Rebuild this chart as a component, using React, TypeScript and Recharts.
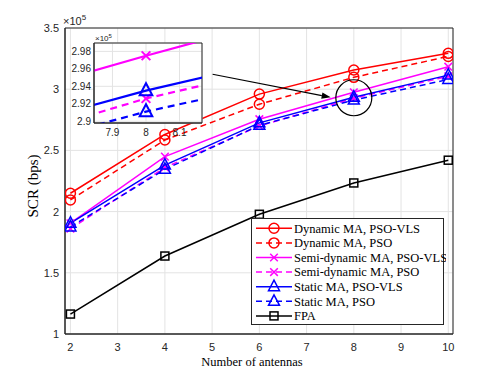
import React from 'react';
import { LineChart, Line, XAxis, YAxis, CartesianGrid, ReferenceArea, ReferenceDot, ReferenceLine } from 'recharts';

const antennas = [2, 4, 6, 8, 10];
const dynamicVLS = [215000, 263000, 296000, 315700, 329300];
const dynamicPSO = [209500, 258500, 287700, 309700, 326800];
const semiVLS = [190500, 244900, 275500, 297500, 318400];
const semiPSO = [186000, 236000, 270000, 292600, 310500];
const staticVLS = [190500, 238000, 272500, 293500, 311500];
const staticPSO = [187500, 234500, 270500, 291100, 308000];
const fpa = [116300, 163700, 197800, 223400, 242000];

const xTicks = [2, 3, 4, 5, 6, 7, 8, 9, 10];
const yTicks = [100000, 150000, 200000, 250000, 300000, 350000];
const insetXTicks = [7.9, 8, 8.1];
const insetYTicks = [290000, 292000, 294000, 296000, 298000];

const xLabel = 'Number of antennas';
const yLabel = 'SCR (bps)';

type Marker = 'circle' | 'x' | 'triangle' | 'square';
interface Series { key: string; name: string; color: string; dashed: boolean; marker: Marker; values: number[] }

const series: Series[] = [
  { key: 'dynVLS', name: 'Dynamic MA, PSO-VLS', color: '#FF0000', dashed: false, marker: 'circle', values: dynamicVLS },
  { key: 'dynPSO', name: 'Dynamic MA, PSO', color: '#FF0000', dashed: true, marker: 'circle', values: dynamicPSO },
  { key: 'semiVLS', name: 'Semi-dynamic MA, PSO-VLS', color: '#FF00FF', dashed: false, marker: 'x', values: semiVLS },
  { key: 'semiPSO', name: 'Semi-dynamic MA, PSO', color: '#FF00FF', dashed: true, marker: 'x', values: semiPSO },
  { key: 'staticVLS', name: 'Static MA, PSO-VLS', color: '#0000FF', dashed: false, marker: 'triangle', values: staticVLS },
  { key: 'staticPSO', name: 'Static MA, PSO', color: '#0000FF', dashed: true, marker: 'triangle', values: staticPSO },
  { key: 'fpa', name: 'FPA', color: '#000000', dashed: false, marker: 'square', values: fpa },
];

const data = antennas.map((n, i) => {
  const row: Record<string, number> = { n };
  series.forEach((s) => { row[s.key] = s.values[i]; });
  return row;
});

const zoomCenter = { x: 8, y: 293000 };
const arrowFrom = { x: 5.01, y: 312200 };
const arrowTo = { x: 7.51, y: 293400 };

function MarkerShape({ type, cx, cy, color, scale = 1, sw = 1.5 }: { type: Marker; cx: number; cy: number; color: string; scale?: number; sw?: number }) {
  if (cx == null || cy == null || isNaN(cx) || isNaN(cy)) return null;
  const s = scale;
  if (type === 'circle') return <circle cx={cx} cy={cy} r={5 * s} fill="none" stroke={color} strokeWidth={sw} />;
  if (type === 'x') {
    const d = 3.8 * s;
    return (
      <g stroke={color} strokeWidth={sw}>
        <line x1={cx - d} y1={cy - d} x2={cx + d} y2={cy + d} />
        <line x1={cx - d} y1={cy + d} x2={cx + d} y2={cy - d} />
      </g>
    );
  }
  if (type === 'triangle') {
    const w = 5.5 * s;
    return <polygon points={`${cx},${cy - 6.5 * s} ${cx - w},${cy + 4 * s} ${cx + w},${cy + 4 * s}`} fill="none" stroke={color} strokeWidth={sw} />;
  }
  const h = 4 * s;
  return <rect x={cx - h} y={cy - h} width={2 * h} height={2 * h} fill="none" stroke={color} strokeWidth={sw} />;
}

const tickStyle = { fontFamily: 'Liberation Sans, Arial, sans-serif', fontSize: 11, fill: '#262626' };
const insetTickStyle = { fontFamily: 'Liberation Sans, Arial, sans-serif', fontSize: 10, fill: '#262626' };
const fmtMain = (v: number) => String(v / 1e5);
const fmtInset = (v: number) => String(parseFloat((v / 1e5).toFixed(2)));

const Arrow = (props: any) => {
  const { x1, y1, x2, y2 } = props;
  if ([x1, y1, x2, y2].some((v) => v == null || isNaN(v))) return null;
  const ang = Math.atan2(y2 - y1, x2 - x1);
  const L = 9, W = 3.2;
  const bx = x2 - L * Math.cos(ang), by = y2 - L * Math.sin(ang);
  const px = -Math.sin(ang) * W, py = Math.cos(ang) * W;
  return (
    <g>
      <line x1={x1} y1={y1} x2={bx} y2={by} stroke="#000" strokeWidth={1.2} />
      <polygon points={`${x2},${y2} ${bx + px},${by + py} ${bx - px},${by - py}`} fill="#000" />
    </g>
  );
};

export default function App() {
  return (
    <div style={{ position: 'absolute', left: 0, top: 0, width: 501, height: 376, background: '#fff' }}>
      <div style={{ position: 'absolute', left: 0, top: 0 }}>
        <LineChart width={501} height={376} data={data} margin={{ top: 28, right: 48, left: 20, bottom: 12 }}>
          <CartesianGrid stroke="#e3e3e3" strokeWidth={1} />
          <XAxis dataKey="n" type="number" domain={[1.885, 10.1]} ticks={xTicks} allowDataOverflow height={30}
            tick={tickStyle} tickLine={false} tickSize={0} tickMargin={9} axisLine={{ stroke: '#262626' }}
            label={{ content: () => <text x={252} y={366} textAnchor="middle" fontFamily="Liberation Serif, Times New Roman, serif" fontSize={12.5} fill="#000">{xLabel}</text> }} />
          <YAxis type="number" domain={[100000, 350000]} ticks={yTicks} allowDataOverflow width={45}
            tickFormatter={fmtMain} tick={tickStyle} tickLine={false} tickSize={0} tickMargin={6} axisLine={{ stroke: '#262626' }}
            label={{ content: () => <text x={38} y={186} textAnchor="middle" transform="rotate(-90 38 186)" fontFamily="Liberation Serif, Times New Roman, serif" fontSize={15} fill="#000">{yLabel}</text> }} />
          <ReferenceArea x1={1.885} x2={10.1} y1={100000} y2={350000} fill="none" stroke="#262626" strokeWidth={1} ifOverflow="visible" />
          {series.map((s) => (
            <Line key={s.key} dataKey={s.key} name={s.name} stroke={s.color} strokeWidth={1.5}
              strokeDasharray={s.dashed ? '6 4' : undefined} isAnimationActive={false}
              dot={(p: any) => <MarkerShape key={`${s.key}-${p.index}`} type={s.marker} cx={p.cx} cy={p.cy} color={s.color} />}
              activeDot={false} />
          ))}
          <ReferenceDot x={zoomCenter.x} y={zoomCenter.y} r={18} fill="none" stroke="#000" strokeWidth={1.2} ifOverflow="visible" />
          <ReferenceLine segment={[arrowFrom, arrowTo]} shape={Arrow} ifOverflow="visible" />
        </LineChart>
        <svg style={{ position: 'absolute', left: 0, top: 0, pointerEvents: 'none' }} width={501} height={30}>
          <text x={63} y={25} fontFamily="Liberation Sans, Arial, sans-serif" fontSize={11} fill="#262626">×10<tspan dy={-5} fontSize={8}>5</tspan></text>
        </svg>
      </div>

      <div style={{ position: 'absolute', left: 60, top: 30 }}>
        <LineChart width={150} height={115} data={data} margin={{ top: 13, right: 8, left: 0, bottom: 2 }}>
          <CartesianGrid stroke="#e3e3e3" fill="#fff" fillOpacity={1} />
          <XAxis dataKey="n" type="number" domain={[7.845, 8.167]} ticks={insetXTicks} allowDataOverflow height={20}
            tick={insetTickStyle} tickLine={false} tickSize={0} tickMargin={6} axisLine={{ stroke: '#262626' }} />
          <YAxis type="number" domain={[289800, 298960]} ticks={insetYTicks} allowDataOverflow width={34}
            tickFormatter={fmtInset} tick={insetTickStyle} tickLine={false} tickSize={0} tickMargin={3} axisLine={{ stroke: '#262626' }} />
          {series.map((s) => (
            <Line key={s.key} dataKey={s.key} stroke={s.color} strokeWidth={2.2}
              strokeDasharray={s.dashed ? '7 5' : undefined} isAnimationActive={false}
              dot={(p: any) => <MarkerShape key={`i-${s.key}-${p.index}`} type={s.marker} cx={p.cx} cy={p.cy} color={s.color} scale={1.15} sw={2} />}
              activeDot={false} />
          ))}
          <ReferenceArea x1={7.845} x2={8.167} y1={289800} y2={298960} fill="none" stroke="#262626" strokeWidth={1} ifOverflow="visible" />
        </LineChart>
        <svg style={{ position: 'absolute', left: 0, top: 0, pointerEvents: 'none' }} width={150} height={20}>
          <text x={35} y={11} fontFamily="Liberation Sans, Arial, sans-serif" fontSize={8} fill="#262626">×10<tspan dy={-3} fontSize={6}>5</tspan></text>
        </svg>
      </div>

      <svg style={{ position: 'absolute', left: 251, top: 218 }} width={195} height={108}>
        <rect x={0.5} y={0.5} width={192} height={106} fill="#fff" stroke="#262626" strokeWidth={1} />
        {series.map((s, i) => {
          const y = 10.3 + i * 14.6;
          return (
            <g key={s.key}>
              <line x1={5} y1={y} x2={41} y2={y} stroke={s.color} strokeWidth={1.5} strokeDasharray={s.dashed ? '6 4' : undefined} />
              <MarkerShape type={s.marker} cx={23} cy={y} color={s.color} />
              <text x={43} y={y + 4.3} fontFamily="Liberation Serif, Times New Roman, serif" fontSize={12.5} fill="#000">{s.name}</text>
            </g>
          );
        })}
      </svg>
    </div>
  );
}
